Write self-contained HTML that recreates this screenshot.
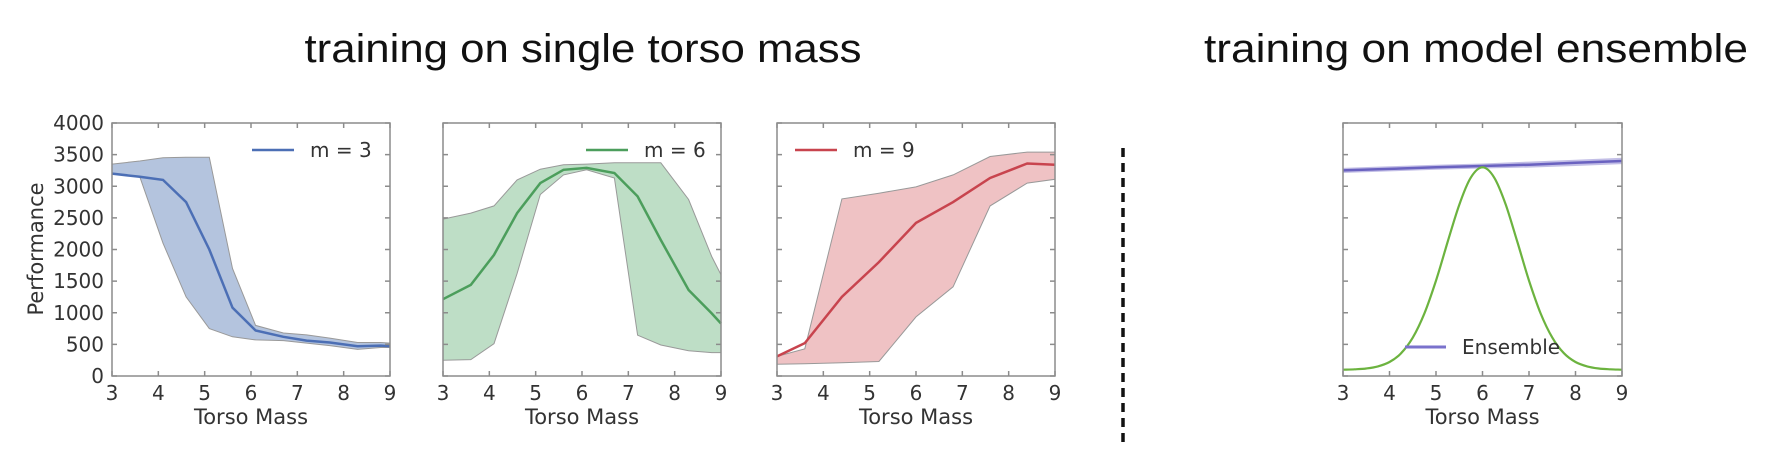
<!DOCTYPE html>
<html><head><meta charset="utf-8"><style>
body{margin:0;background:#fff;}
svg{display:block;font-family:"DejaVu Sans","Liberation Sans",sans-serif;}
</style></head><body>
<svg id="chart" width="1786" height="462" viewBox="0 0 1786 462" xmlns="http://www.w3.org/2000/svg">
<text x="583" y="62" font-family="Liberation Sans, sans-serif" font-size="40" fill="#111" text-anchor="middle" textLength="557" lengthAdjust="spacingAndGlyphs">training on single torso mass</text>
<text x="1476" y="62" font-family="Liberation Sans, sans-serif" font-size="40" fill="#111" text-anchor="middle" textLength="544" lengthAdjust="spacingAndGlyphs">training on model ensemble</text>
<line x1="1123" y1="148" x2="1123" y2="446" stroke="#111" stroke-width="3.5" stroke-dasharray="9,6"/>
<text transform="translate(43,249) rotate(-90)" font-size="21" fill="#333" text-anchor="middle">Performance</text>
</svg>
<script>
// ---- data ----
const xTicks = [3,4,5,6,7,8,9];
const yTicks = [0,500,1000,1500,2000,2500,3000,3500,4000];
const m3X = [3,3.6,4.1,4.6,5.1,5.6,6.1,6.7,7.2,7.7,8.3,8.8,9];
const m3Mean = [3200,3150,3100,2750,2000,1080,720,620,560,530,470,480,470];
const m3Upper = [3350,3400,3450,3460,3460,1700,800,680,650,600,530,530,520];
const m3Lower = [3200,3150,2100,1250,750,620,570,560,520,480,420,450,450];
const m6X = [3,3.6,4.1,4.6,5.1,5.6,6.1,6.7,7.2,7.7,8.3,8.8,9];
const m6Mean = [1215,1440,1915,2575,3050,3260,3290,3210,2840,2150,1360,990,830];
const m6Upper = [2480,2575,2690,3100,3270,3340,3350,3370,3370,3370,2790,1890,1600];
const m6Lower = [250,260,510,1620,2870,3180,3260,3130,645,490,400,370,370];
const m9X = [3,3.6,4.4,5.2,6,6.8,7.6,8.4,9];
const m9Mean = [310,520,1250,1800,2420,2750,3130,3360,3340];
const m9Upper = [310,430,2800,2890,2990,3180,3470,3540,3540];
const m9Lower = [185,195,210,230,935,1410,2690,3050,3110];
const ensX = [3,4,5,6,7,8,9];
const ensMean = [3250,3275,3300,3320,3340,3370,3400];
const ensUpper = [3290,3315,3340,3360,3390,3420,3450];
const ensLower = [3210,3235,3260,3280,3295,3320,3350];
const distX = [3,3.25,3.5,3.75,4,4.25,4.5,4.75,5,5.25,5.5,5.75,6,6.25,6.5,6.75,7,7.25,7.5,7.75,8,8.25,8.5,8.75,9];
const distY = [100,106,119,152,221,360,607,990,1508,2118,2708,3140,3300,3140,2708,2118,1508,990,607,360,221,152,119,106,100];

const NS="http://www.w3.org/2000/svg";
const svg=document.getElementById('chart');
function mk(tag,attrs,parent){const e=document.createElementNS(NS,tag);for(const k in attrs)e.setAttribute(k,attrs[k]);(parent||svg).appendChild(e);return e;}
const plotTop=123,plotBottom=376;
function makeAxes(left,right){
  return {x:v=>left+(v-3)/6*(right-left), y:v=>plotBottom-v/4000*(plotBottom-plotTop)};
}
function pts(X,Y,ax){return X.map((x,i)=>ax.x(x).toFixed(1)+','+ax.y(Y[i]).toFixed(1));}
function smoothPath(X,Y,ax){
  const P=X.map((x,i)=>[ax.x(x),ax.y(Y[i])]);
  let d='M'+P[0][0]+','+P[0][1];
  for(let i=0;i<P.length-1;i++){
    const p0=P[i-1]||P[i],p1=P[i],p2=P[i+1],p3=P[i+2]||P[i+1];
    const c1=[p1[0]+(p2[0]-p0[0])/6,p1[1]+(p2[1]-p0[1])/6];
    const c2=[p2[0]-(p3[0]-p1[0])/6,p2[1]-(p3[1]-p1[1])/6];
    d+=' C'+c1[0].toFixed(1)+','+c1[1].toFixed(1)+' '+c2[0].toFixed(1)+','+c2[1].toFixed(1)+' '+p2[0].toFixed(1)+','+p2[1].toFixed(1);
  }
  return d;
}
function drawFrame(g,left,right,ax,showY){
  const fr=mk('rect',{x:left,y:plotTop,width:right-left,height:plotBottom-plotTop,fill:'none',stroke:'#8c8c8c','stroke-width':1.5},g);
  
  
  xTicks.forEach(t=>{
    const X=ax.x(t);
    mk('line',{x1:X,y1:plotBottom,x2:X,y2:plotBottom-5,stroke:'#8c8c8c','stroke-width':1.5},g);
    mk('line',{x1:X,y1:plotTop,x2:X,y2:plotTop+5,stroke:'#8c8c8c','stroke-width':1.5},g);
    const tl=mk('text',{x:X,y:400,'font-size':20,fill:'#333','text-anchor':'middle'},g);
    tl.textContent=t;
    
    
  });
  yTicks.forEach(t=>{
    const Y=ax.y(t);
    mk('line',{x1:left,y1:Y,x2:left+5,y2:Y,stroke:'#8c8c8c','stroke-width':1.5},g);
    mk('line',{x1:right,y1:Y,x2:right-5,y2:Y,stroke:'#8c8c8c','stroke-width':1.5},g);
    if(showY){
      const tl=mk('text',{x:left-8,y:Y+7,'font-size':20,fill:'#333','text-anchor':'end'},g);
      tl.textContent=t;
      
      
    }
  });
  const xl=mk('text',{x:(left+right)/2,y:424,'font-size':21,fill:'#333','text-anchor':'middle'},g);
  xl.textContent='Torso Mass';
  
  
}
function panel(name,left,right,X,M,U,L,col,fill,label,legX,showY){
  const g=mk('g',{});
  
  
  const ax=makeAxes(left,right);
  const up=pts(X,U,ax), lo=pts(X,L,ax).reverse();
  const band=mk('polygon',{points:up.concat(lo).join(' '),fill:fill,stroke:'#999','stroke-width':1},g);
  
  
  const ln=mk('polyline',{points:pts(X,M,ax).join(' '),fill:'none',stroke:col,'stroke-width':2.5},g);
  
  
  drawFrame(g,left,right,ax,showY);
  const lg=mk('g',{},g);
  
  
  mk('line',{x1:legX,y1:150,x2:legX+42,y2:150,stroke:col,'stroke-width':2.5},lg);
  const lt=mk('text',{x:legX+58,y:157,'font-size':20,fill:'#333'},lg);
  lt.textContent=label;
  return ax;
}
panel('panel-m3',112,390,m3X,m3Mean,m3Upper,m3Lower,'#4c6fb5','rgba(76,114,176,0.42)','m = 3',252,true);
panel('panel-m6',443,721,m6X,m6Mean,m6Upper,m6Lower,'#4c9e5c','rgba(85,168,104,0.38)','m = 6',586,false);
panel('panel-m9',777,1055,m9X,m9Mean,m9Upper,m9Lower,'#c8444e','rgba(214,94,100,0.38)','m = 9',795,false);

// ensemble panel
const g4=mk('g',{});


const ax4=makeAxes(1343,1622);
const eb=mk('polygon',{points:pts(ensX,ensUpper,ax4).concat(pts(ensX,ensLower,ax4).reverse()).join(' '),fill:'rgba(120,110,200,0.45)',stroke:'none'},g4);


const el=mk('polyline',{points:pts(ensX,ensMean,ax4).join(' '),fill:'none',stroke:'#6a62c0','stroke-width':2.5},g4);


const dl=mk('path',{d:smoothPath(distX,distY,ax4),fill:'none',stroke:'#6cb33f','stroke-width':2.2},g4);


drawFrame(g4,1343,1622,ax4,false);
const lg4=mk('g',{},g4);


mk('line',{x1:1405,y1:347,x2:1446,y2:347,stroke:'#7a72cc','stroke-width':3},lg4);
const lt4=mk('text',{x:1462,y:354,'font-size':20,fill:'#333'},lg4);
lt4.textContent='Ensemble';
</script>
</body></html>
